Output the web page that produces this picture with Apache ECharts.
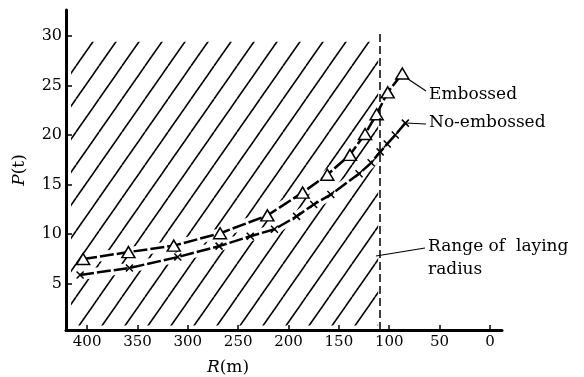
<!DOCTYPE html>
<html><head><meta charset="utf-8">
<script src="https://cdn.jsdelivr.net/npm/echarts@6/dist/echarts.min.js"></script>
<style>html,body{margin:0;padding:0;background:#fff}#c{width:584px;height:377px}</style>
</head><body><div id="c"></div>
<script>
// ---- data ----
const embossedR = [404, 359, 314, 268, 221, 186, 161.5, 139, 124, 112.5, 101.5, 87];
const embossedP = [7.5, 8.2, 8.85, 10.1, 11.9, 14.2, 16.0, 18.0, 20.1, 22.1, 24.3, 26.2];
const noEmbR = [407, 358, 310, 269, 238, 214, 192, 175, 158, 130, 118, 109, 102, 94, 84];
const noEmbP = [5.9, 6.6, 7.7, 8.8, 9.8, 10.5, 11.8, 13.0, 14.0, 16.1, 17.2, 18.3, 19.1, 20.0, 21.2];
const xTickValues = [0, 50, 100, 150, 200, 250, 300, 350, 400];
const yTickValues = [5, 10, 15, 20, 25, 30];
const layingRadiusLimit = 109;      // R of the dashed boundary
const hatchR = [416, 111];          // hatched range of laying radius (R)
const hatchP = [0.8, 29.4];         // vertical extent of hatching (P)
const dashTopP = 30.3;

const font = 'DejaVu Serif';

function hatchPattern() {
  const W = 23, H = 33;
  const c = document.createElement('canvas');
  c.width = W; c.height = H;
  const g = c.getContext('2d');
  g.strokeStyle = '#000';
  g.lineWidth = 1.6;
  for (let k = -1; k <= 2; k++) {
    g.beginPath();
    g.moveTo(7 + W * k, 0);
    g.lineTo(7 + W * k - W, H);
    g.stroke();
  }
  return c;
}

const emb = embossedR.map((r, i) => [r, embossedP[i]]);
const noe = noEmbR.map((r, i) => [r, noEmbP[i]]);

const chart = echarts.init(document.getElementById('c'), null, {renderer: 'canvas'});
chart.setOption({
  animation: false,
  backgroundColor: '#fff',
  grid: {left: 66, right: 82, top: 10, bottom: 47, containLabel: false},
  xAxis: {
    type: 'value', inverse: true, min: -12, max: 421,
    splitLine: {show: false},
    axisLine: {onZero: false, lineStyle: {color: '#000', width: 3}},
    axisTick: {inside: true, length: 5, lineStyle: {color: '#000', width: 1.5}, customValues: xTickValues},
    axisLabel: {customValues: xTickValues, color: '#000', fontFamily: font, fontSize: 15, margin: 5}
  },
  yAxis: {
    type: 'value', min: 0.35, max: 32.6, position: 'left',
    splitLine: {show: false},
    axisLine: {show: true, onZero: false, lineStyle: {color: '#000', width: 3}},
    axisTick: {show: true, inside: true, length: 6, lineStyle: {color: '#000', width: 1.5}, customValues: yTickValues},
    axisLabel: {customValues: yTickValues, color: '#000', fontFamily: font, fontSize: 16, margin: 4},
    name: '{it|P}(t)', nameLocation: 'middle', nameGap: 38,
    nameTextStyle: {color: '#000', fontFamily: font, fontSize: 17, rich: {it: {fontStyle: 'italic', fontFamily: font, fontSize: 17, color: '#000'}}}
  },
  series: [
    {
      type: 'line', data: [], z: 1, silent: true,
      markArea: {
        silent: true,
        itemStyle: {color: {image: hatchPattern(), repeat: 'repeat'}},
        data: [[{coord: [hatchR[0], hatchP[0]]}, {coord: [hatchR[1], hatchP[1]]}]]
      },
      markLine: {
        silent: true, symbol: ['none', 'none'],
        label: {show: false},
        lineStyle: {color: '#000', type: [8, 4], width: 1.5},
        data: [[{coord: [layingRadiusLimit, 0.35]}, {coord: [layingRadiusLimit, dashTopP]}]]
      }
    },
    {type: 'line', data: emb, z: 2, silent: true, showSymbol: false, lineStyle: {color: '#fff', width: 10}},
    {type: 'line', data: noe, z: 2, silent: true, showSymbol: false, lineStyle: {color: '#fff', width: 10}},
    {
      name: 'Embossed', type: 'line', data: emb, z: 3,
      symbol: 'triangle', symbolSize: [13, 11], showAllSymbol: true,
      itemStyle: {color: '#fff', borderColor: '#000', borderWidth: 1.5},
      lineStyle: {color: '#000', width: 2.5, type: [14, 3]}
    },
    {
      name: 'No-embossed', type: 'line', data: noe, z: 3,
      symbol: 'path://M0,0L10,10M10,0L0,10', symbolSize: 7, showAllSymbol: true,
      itemStyle: {color: '#000', borderColor: '#000', borderWidth: 1.5},
      lineStyle: {color: '#000', width: 2.5, type: [14, 3]}
    }
  ],
  graphic: [
    {type: 'text', x: 228, y: 368, style: {text: '{it|R}(m)', fill: '#000', font: '17px "DejaVu Serif"', align: 'center', verticalAlign: 'middle',
      rich: {it: {fontStyle: 'italic', fontFamily: font, fontSize: 17, fill: '#000'}}}},
    {type: 'line', shape: {x1: 408, y1: 79, x2: 426, y2: 91}, style: {stroke: '#000', lineWidth: 1.2}},
    {type: 'text', x: 429, y: 95, style: {text: 'Embossed', fill: '#000', font: '17px "DejaVu Serif"', verticalAlign: 'middle'}},
    {type: 'line', shape: {x1: 406, y1: 123, x2: 426, y2: 124}, style: {stroke: '#000', lineWidth: 1.2}},
    {type: 'text', x: 429, y: 123, style: {text: 'No-embossed', fill: '#000', font: '17px "DejaVu Serif"', verticalAlign: 'middle'}},
    {type: 'line', shape: {x1: 376, y1: 256, x2: 425, y2: 248}, style: {stroke: '#000', lineWidth: 1.2}},
    {type: 'text', x: 428, y: 247, style: {text: 'Range of  laying', fill: '#000', font: '17px "DejaVu Serif"', verticalAlign: 'middle'}},
    {type: 'text', x: 428, y: 270, style: {text: 'radius', fill: '#000', font: '17px "DejaVu Serif"', verticalAlign: 'middle'}}
  ]
});
</script>
</body></html>
